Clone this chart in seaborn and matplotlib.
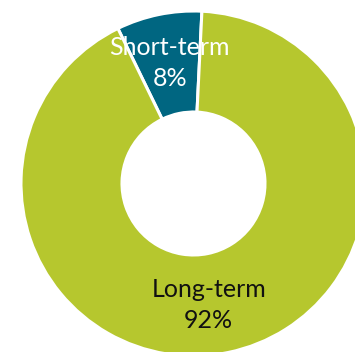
import matplotlib
matplotlib.use("Agg")
import matplotlib.pyplot as plt
import seaborn as sns

# Share of debt by maturity
categories = ["Short-term", "Long-term"]
shares = [8, 92]
share_labels = ["8%", "92%"]

sns.set_theme(style="white")
plt.rcParams["font.family"] = ["Lato", "DejaVu Sans"]

colors = ["#006681", "#b6c72e"]
text_colors = ["white", "#111111"]

fig = plt.figure(figsize=(3.55, 3.52), dpi=100)
ax = fig.add_axes([0, 0, 1, 1])

# Work in pixel-like units so the ring can run off the canvas edges
outer_r = 172.5
inner_r = 71.5
center = (193.5, -183.5)

wedges, _ = ax.pie(
    shares,
    colors=colors,
    startangle=87.2,
    counterclock=True,
    radius=outer_r,
    center=center,
    wedgeprops=dict(width=outer_r - inner_r, edgecolor="white", linewidth=2.2),
)

# name on one baseline, percentage on the next
name_pos = [(169.5, -55), (209, -297)]
pct_pos = [(170, -86), (208.5, -328)]
for (nx, ny), (px, py), name, pct, tc in zip(name_pos, pct_pos, categories,
                                             share_labels, text_colors):
    ax.text(nx, ny, name, ha="center", va="baseline", color=tc, fontsize=18)
    ax.text(px, py, pct, ha="center", va="baseline", color=tc, fontsize=18)

ax.set_xlim(0, 355)
ax.set_ylim(-352, 0)
ax.set_aspect("auto")
ax.axis("off")

fig.savefig("out.png", dpi=100)
